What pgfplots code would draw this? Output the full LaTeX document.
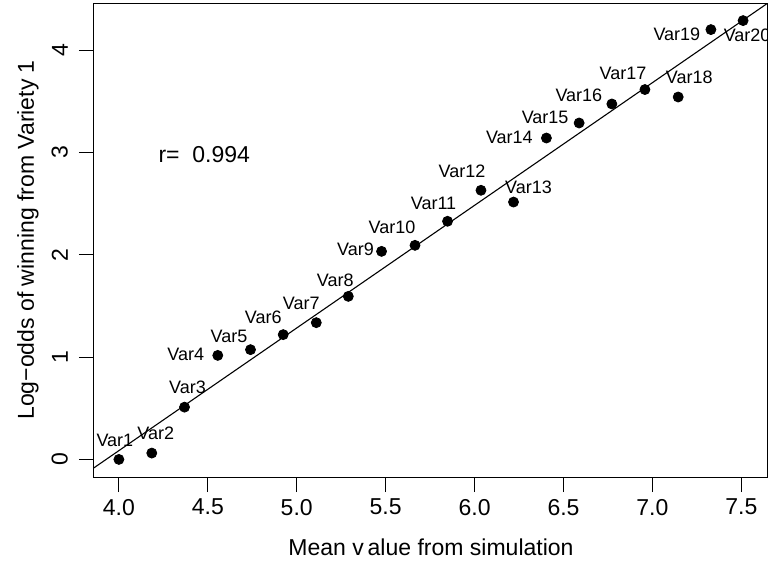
\documentclass[border=0pt]{standalone}
\usepackage{pgfplots}
\pgfplotsset{compat=1.18}
\usepackage{fontspec}
\setmainfont{Liberation Sans}
\begin{document}
\begin{tikzpicture}
\begin{axis}[name=ax,
  scale only axis, width=337pt, height=237pt,
  xmin=3.86, xmax=7.65, ymin=-0.172, ymax=4.462,
  axis line style={line width=0.5pt},
  xtick={4,4.5,5,5.5,6,6.5,7,7.5},
  ytick={0,1,2,3,4},
  xtick pos=bottom, ytick pos=left,
  tick align=outside, major tick length=7.5pt,
  tick style={black, line width=0.5pt},
  /pgf/number format/assume math mode=true,
  xticklabel style={/pgf/number format/.cd, fixed, fixed zerofill, precision=1},
  ticklabel style={font=\fontsize{11.5}{13}\selectfont},
  yticklabel style={rotate=90, anchor=south},
  yticklabel shift=2pt,
  clip=true,
]
\addplot[black, line width=0.55pt] coordinates {(3.5,-0.5135) (8.0,4.882)};
\addplot[only marks, mark=*, mark size=2.5pt, black] coordinates {
(4.000,0.000) (4.185,0.062) (4.369,0.511) (4.556,1.017) (4.740,1.073)
(4.924,1.220) (5.110,1.337) (5.290,1.594) (5.477,2.034) (5.665,2.093)
(5.848,2.328) (6.036,2.631) (6.219,2.516) (6.404,3.142) (6.588,3.289)
(6.772,3.475) (6.958,3.616) (7.145,3.543) (7.329,4.202) (7.510,4.290)};
\begin{scope}[every node/.style={font=\fontsize{9}{10}\selectfont, inner sep=0pt, anchor=center}]
\node[xshift=-2pt, yshift=9.5pt] at (axis cs:4.000,0.000) {Var1};
\node[xshift=2pt, yshift=10pt] at (axis cs:4.185,0.062) {Var2};
\node[xshift=1.5pt, yshift=10pt] at (axis cs:4.369,0.511) {Var3};
\node[xshift=-16pt, yshift=0.5pt] at (axis cs:4.556,1.017) {Var4};
\node[xshift=-10.75pt, yshift=6.5pt] at (axis cs:4.740,1.073) {Var5};
\node[xshift=-10pt, yshift=8.5pt] at (axis cs:4.924,1.220) {Var6};
\node[xshift=-7.5pt, yshift=9.5pt] at (axis cs:5.110,1.337) {Var7};
\node[xshift=-6.5pt, yshift=8pt] at (axis cs:5.290,1.594) {Var8};
\node[xshift=-13pt, yshift=1pt] at (axis cs:5.477,2.034) {Var9};
\node[xshift=-11.5pt, yshift=9.25pt] at (axis cs:5.665,2.093) {Var10};
\node[xshift=-7pt, yshift=9pt] at (axis cs:5.848,2.328) {Var11};
\node[xshift=-9.5pt, yshift=9.5pt] at (axis cs:6.036,2.631) {Var12};
\node[xshift=7.5pt, yshift=7.5pt] at (axis cs:6.219,2.516) {Var13};
\node[xshift=-18.5pt, yshift=0.5pt] at (axis cs:6.404,3.142) {Var14};
\node[xshift=-17pt, yshift=3pt] at (axis cs:6.588,3.289) {Var15};
\node[xshift=-16.5pt, yshift=4.5pt] at (axis cs:6.772,3.475) {Var16};
\node[xshift=-11pt, yshift=8pt] at (axis cs:6.958,3.616) {Var17};
\node[xshift=5.5pt, yshift=10pt] at (axis cs:7.145,3.543) {Var18};
\node[xshift=-17pt, yshift=-2.5pt] at (axis cs:7.329,4.202) {Var19};
\node[xshift=2pt, yshift=-7.25pt] at (axis cs:7.510,4.290) {Var20};
\end{scope}
\node[font=\fontsize{11.5}{13}\selectfont, inner sep=0pt, anchor=center] at (axis cs:4.48,2.98) {r=\ \ 0.994};
\end{axis}
\node[font=\fontsize{11.5}{13}\selectfont, inner sep=0pt, anchor=center] at ([yshift=-35pt]ax.south) {Mean v\,alue from simulation};
\node[font=\fontsize{11.5}{13}\selectfont, inner sep=0pt, anchor=center, rotate=90] at ([xshift=-33pt]ax.west) {Log−odds of winning from Variety 1};
\pgfresetboundingbox
\path[use as bounding box] ([shift={(-47pt,-44.5pt)}]ax.south west) rectangle ([shift={(2pt,1.5pt)}]ax.north east);
\end{tikzpicture}
\end{document}
